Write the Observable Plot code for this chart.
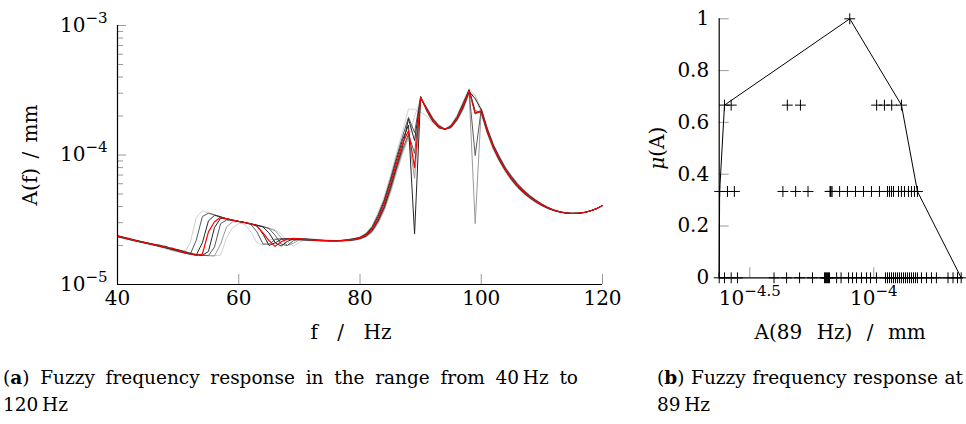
<!DOCTYPE html>
<html><head><meta charset="utf-8">
<script src="https://cdn.jsdelivr.net/npm/d3@7"></script>
<script src="https://cdn.jsdelivr.net/npm/@observablehq/plot@0.6"></script>
<style>
body{margin:0;background:#fff;}
#wrap{position:relative;width:966px;height:424px;overflow:hidden;background:#fff;font-family:"DejaVu Serif",serif;}
#left{position:absolute;left:0;top:0}
#right{position:absolute;left:630px;top:0}
#wrap svg text{font-family:"DejaVu Serif",serif;font-size:20px;fill:#000;}
.cap{position:absolute;font-size:18.5px;line-height:27px;color:#000;}
.just{text-align:justify;text-align-last:justify;}
</style>
</head><body>
<div id="wrap">
  <div id="left"></div>
  <div id="right"></div>
  <div class="cap" style="left:3px;top:364px;width:575px;">
    <div class="just">(<b>a</b>) Fuzzy frequency response in the range from 40&#8201;Hz to</div>
    <div>120&#8201;Hz</div>
  </div>
  <div class="cap" style="left:657px;top:364px;width:306px;">
    <div class="just">(<b>b</b>) Fuzzy frequency response at</div>
    <div>89&#8201;Hz</div>
  </div>
</div>
<script>
// ---------- data: left chart (amplitudes in units of 1e-5 mm) ----------
const UNIT = 1e-5;
const freq = [40,41,42,43,44,45,46,47,48,49,50,51,52,53,54,55,56,57,58,59,60,61,62,63,64,65,66,67,68,69,70,71,72,73,74,75,76,77,78,79,80,81,82,83,84,85,86,87,88,89,90,91,92,93,94,95,96,97,98,99,100,101,102,103,104,105,106,107,108,109,110,111,112,113,114,115,116,117,118,119,120];

const curveNominal = [2.36,2.30,2.24,2.18,2.13,2.08,2.03,1.98,1.93,1.91,1.84,1.77,1.72,
 1.68,1.72,2.55,3.05,3.30,3.22,3.14,3.07,3.01,2.94,2.82,2.50,2.18,1.97,2.14,2.24,2.27,2.25,2.23,2.21,2.19,2.18,2.17,2.17,2.18,2.20,2.23,
 2.29,2.42,2.68,3.25,4.2,5.9,8.6,12.2,15.4,8.0,27.9,22.5,18.6,16.5,15.8,16.6,19.2,24.0,31.4,20.8,22.0,15.4,11.6,9.3,7.7,6.6,
 5.8,5.2,4.75,4.4,4.12,3.9,3.74,3.63,3.56,3.54,3.55,3.6,3.7,3.85,4.07];
const curveA = [2.39,2.33,2.27,2.21,2.15,2.10,2.07,1.95,1.87,1.82,1.78,1.74,2.10,
 3.30,3.70,3.58,3.45,3.33,3.22,3.14,3.05,2.90,2.55,2.10,2.02,2.20,2.26,2.25,2.23,2.21,2.20,2.19,2.18,2.17,2.17,2.17,2.18,2.20,2.23,2.27,
 2.33,2.50,2.85,3.60,4.8,6.9,10.3,15.0,22.7,22.5,21.4,20.0,17.5,16.0,15.9,17.2,20.3,26.0,32.5,28.5,20.5,14.4,10.9,8.8,7.3,6.3,
 5.55,5.0,4.6,4.28,4.03,3.84,3.71,3.62,3.56,3.54,3.55,3.6,3.7,3.85,4.07];
const curveB = [2.38,2.32,2.26,2.20,2.14,2.09,2.04,2.02,1.92,1.85,1.80,1.75,1.71,
 2.20,3.35,3.55,3.45,3.33,3.22,3.14,3.07,3.01,2.90,2.55,2.05,2.05,2.22,2.26,2.25,2.23,2.21,2.20,2.19,2.18,2.17,2.17,2.18,2.19,2.22,2.26,
 2.32,2.47,2.80,3.48,4.55,6.5,9.6,13.8,19.5,14.9,28.3,21.8,18.0,16.2,15.8,16.9,19.8,25.2,32.0,22.0,21.2,14.8,11.2,9.0,7.5,6.4,
 5.62,5.06,4.65,4.32,4.06,3.86,3.72,3.62,3.56,3.54,3.55,3.6,3.7,3.85,4.07];
const curveC = [2.37,2.31,2.25,2.19,2.14,2.09,2.04,1.99,1.97,1.88,1.82,1.76,1.72,
 1.69,2.10,3.10,3.42,3.33,3.22,3.14,3.07,3.01,2.94,2.85,2.45,2.00,2.10,2.23,2.26,2.25,2.23,2.21,2.20,2.19,2.18,2.17,2.17,2.19,2.21,2.25,
 2.30,2.45,2.74,3.36,4.4,6.2,9.1,13.0,17.0,2.45,28.2,22.2,18.3,16.3,15.8,16.7,19.5,24.6,31.8,21.2,21.6,15.1,11.4,9.1,7.6,6.5,
 5.7,5.12,4.7,4.36,4.09,3.88,3.73,3.63,3.56,3.54,3.55,3.6,3.7,3.85,4.07];
const curveD = [2.35,2.29,2.23,2.17,2.12,2.07,2.02,1.97,1.92,1.88,1.86,1.79,1.73,
 1.69,1.68,1.80,2.75,3.25,3.20,3.14,3.07,3.01,2.94,2.87,2.78,2.50,2.10,1.98,2.15,2.25,2.26,2.24,2.22,2.20,2.19,2.18,2.17,2.18,2.19,2.22,
 2.27,2.38,2.62,3.15,4.0,5.6,8.1,11.5,19.0,12.9,27.6,22.8,18.9,16.7,15.8,16.4,18.9,23.4,31.0,27.2,22.4,15.7,11.8,9.5,7.8,6.7,
 5.88,5.27,4.8,4.44,4.15,3.92,3.75,3.64,3.56,3.54,3.55,3.6,3.7,3.85,4.07];
const curveE = [2.34,2.28,2.22,2.17,2.12,2.07,2.02,1.97,1.92,1.87,1.83,1.81,1.74,
 1.70,1.68,1.67,1.95,2.95,3.15,3.12,3.07,3.01,2.94,2.87,2.80,2.70,2.40,2.05,2.00,2.18,2.25,2.25,2.23,2.21,2.19,2.18,2.17,2.17,2.19,2.21,
 2.26,2.36,2.58,3.08,3.9,5.4,7.8,11.0,14.5,10.3,27.4,23.0,19.1,16.8,15.8,16.3,18.7,23.0,30.6,9.9,22.6,15.9,11.9,9.6,7.9,6.8,
 5.95,5.33,4.84,4.47,4.17,3.93,3.76,3.64,3.57,3.54,3.55,3.6,3.7,3.85,4.07];
const curveG = [2.34,2.28,2.22,2.16,2.11,2.06,2.01,1.96,1.91,1.87,1.82,1.77,1.76,
 1.71,1.69,1.67,1.66,2.05,2.80,3.05,3.05,3.00,2.94,2.87,2.80,2.72,2.60,2.30,2.00,2.08,2.22,2.25,2.24,2.22,2.20,2.19,2.18,2.17,2.18,2.20,
 2.25,2.34,2.55,3.00,3.8,5.2,7.5,10.5,14.0,6.6,27.2,23.2,19.3,17.0,15.9,16.2,18.5,22.6,30.2,2.95,22.8,16.1,12.0,9.7,8.0,6.9,
 6.02,5.38,4.88,4.5,4.19,3.95,3.77,3.65,3.57,3.54,3.55,3.6,3.7,3.85,4.07];
const curveH = [2.33,2.27,2.21,2.16,2.11,2.06,2.01,1.96,1.91,1.86,1.82,1.77,1.73,
 1.70,1.69,1.68,1.67,1.68,2.30,2.75,2.95,2.98,2.94,2.87,2.80,2.72,2.65,2.45,2.15,1.98,2.12,2.22,2.24,2.23,2.21,2.20,2.19,2.18,2.18,2.19,
 2.24,2.32,2.52,2.95,3.7,5.0,7.2,10.0,13.5,19.9,26.8,23.4,19.5,17.2,16.0,16.1,18.2,22.2,29.8,29.0,23.0,16.3,12.2,9.8,8.1,6.9,
 6.08,5.42,4.92,4.53,4.21,3.97,3.78,3.66,3.57,3.54,3.55,3.6,3.7,3.85,4.07];

const xTicksLeft = [40,60,80,100,120];
const yMajorLeft = [1e-5,1e-4,1e-3];
const yMajorLabels = ["10^\u22125","10^\u22124","10^\u22123"];
const yMinorLeft = [2e-5,3e-5,4e-5,5e-5,6e-5,7e-5,8e-5,9e-5,2e-4,3e-4,4e-4,5e-4,6e-4,7e-4,8e-4,9e-4];

// ---------- data: right chart (A(89 Hz) in units of 1e-5 mm per membership level) ----------
const muLevels = [0, 1/3, 2/3, 1];
const muZero = [2.38,2.50,2.66,2.82,3.96,4.45,5.02,5.66,6.33,6.39,6.45,6.51,6.57,6.63,7.08,7.38,7.91,8.21,8.52,8.92,9.35,9.70,10.25,11.15,11.36,11.57,11.79,12.01,12.23,12.46,12.69,12.93,13.18,13.42,13.67,13.93,14.19,14.46,14.73,15.00,15.57,16.31,17.09,17.89,19.92,20.87,21.76,22.52];
const muOneThird = [2.39,2.57,2.74,4.30,4.84,5.43,6.66,6.70,6.72,6.79,7.28,7.83,8.44,9.09,9.79,10.54,11.36,11.57,11.79,12.01,12.58,12.93,13.30,13.80,14.19,14.59,15.00];
const muTwoThirds = [2.50,2.66,4.48,5.06,10.27,11.04,11.81,12.93];
const muOne = [8.00];
const yTicksRight = [0,0.2,0.4,0.6,0.8,1];
const xTicksRight = [Math.pow(10,-4.5), 1e-4];
const xLabelsRight = ["10^\u22124.5","10^\u22124"];

// ---------- helpers ----------
const NS = "http://www.w3.org/2000/svg";
function supify(svg){
  svg.querySelectorAll("text").forEach(t=>{
    const s = t.textContent;
    const m = s.match(/^(.*)\^(.*)$/);
    if(!m) return;
    while(t.firstChild) t.removeChild(t.firstChild);
    t.appendChild(document.createTextNode(m[1]));
    const sp = document.createElementNS(NS,"tspan");
    sp.setAttribute("style","font-size:15px");
    sp.setAttribute("dy","-0.6em");
    sp.textContent = m[2];
    t.appendChild(sp);
  });
}
function spacing(svg, map){
  svg.querySelectorAll("text").forEach(t=>{ if(t.textContent in map) t.style.wordSpacing = map[t.textContent]; });
}
const STYLE = "background:transparent;overflow:visible;";

// ---------- left chart ----------
const curves = [
  {v:curveA, c:"#d2d2d2"}, {v:curveH, c:"#d2d2d2"},
  {v:curveG, c:"#9a9a9a"},
  {v:curveB, c:"#5a5a5a"}, {v:curveE, c:"#5a5a5a"},
  {v:curveC, c:"#262626"}, {v:curveD, c:"#262626"},
  {v:curveNominal, c:"#ff0000"}
];
const W1=630,H1=360,ml1=117,mr1=28,mt1=25,mb1=76;
const pw1=W1-ml1-mr1, ph1=H1-mt1-mb1;
const left = Plot.plot({
  width:W1,height:H1,marginLeft:ml1,marginRight:mr1,marginTop:mt1,marginBottom:mb1,
  style:STYLE,
  x:{domain:[40,120]},
  y:{type:"log",domain:[1e-5,1e-3]},
  marks:[
    Plot.ruleY(yMinorLeft,{stroke:"#9a9a9a",insetRight:pw1-6}),
    Plot.ruleY(yMajorLeft,{stroke:"#9a9a9a",insetRight:pw1-9}),
    Plot.ruleX(xTicksLeft.slice(1),{stroke:"#9a9a9a",insetTop:ph1-10}),
    ...curves.map(k=>Plot.line(freq.map((f,i)=>({f, A:k.v[i]*UNIT})),{x:"f",y:"A",stroke:k.c,strokeWidth:k.c==="#ff0000"?1.2:1})),
    Plot.ruleX([40],{stroke:"#000",strokeWidth:1.2}),
    Plot.ruleY([1e-5],{stroke:"#000",strokeWidth:1.2}),
    Plot.axisY({ticks:yMajorLeft,tickSize:0,tickPadding:10,label:null,
      tickFormat:d=>yMajorLabels[yMajorLeft.indexOf(d)]}),
    Plot.axisX({ticks:xTicksLeft,tickSize:0,tickPadding:6,label:null,tickFormat:d=>String(d)}),
    Plot.text(["f / Hz"],{text:d=>d,frameAnchor:"bottom",dy:54,dx:-9}),
    Plot.text(["A(f) / mm"],{text:d=>d,frameAnchor:"left",textAnchor:"middle",dx:-87,rotate:-90})
  ]
});
supify(left);
spacing(left, {"f / Hz":"13px","A(f) / mm":"3px"});
document.getElementById("left").appendChild(left);

// ---------- right chart ----------
const levelVals = [muZero, muOneThird, muTwoThirds, muOne];
const pts = levelVals.flatMap((vals,j)=>vals.map(v=>({A:v*UNIT, mu:muLevels[j]})));
const mins = levelVals.map((vals,j)=>({A:d3.min(vals)*UNIT, mu:muLevels[j]}));
const maxs = levelVals.map((vals,j)=>({A:d3.max(vals)*UNIT, mu:muLevels[j]})).reverse();
const poly = [...mins, ...maxs];
const W2=336,H2=360,ml2=88.7,mr2=5.3,mt2=18.3,mb2=82.7;
const pw2=W2-ml2-mr2, ph2=H2-mt2-mb2;
const xDom = [d3.min(muZero)*UNIT, d3.max(muZero)*UNIT];
const right = Plot.plot({
  width:W2,height:H2,marginLeft:ml2,marginRight:mr2,marginTop:mt2,marginBottom:mb2,
  style:STYLE,
  x:{type:"log",domain:xDom},
  y:{domain:[0,1]},
  marks:[
    Plot.ruleY(yTicksRight,{stroke:"#9a9a9a",insetRight:pw2-10}),
    Plot.ruleX(xTicksRight,{stroke:"#9a9a9a",insetTop:ph2-10}),
    Plot.ruleX([xDom[0]],{stroke:"#000",strokeWidth:1.2}),
    Plot.ruleY([0],{stroke:"#000",strokeWidth:1.2,insetRight:-2}),
    Plot.line(poly,{x:"A",y:"mu",stroke:"#000",strokeWidth:1}),
    Plot.dot(pts,{x:"A",y:"mu",symbol:"plus",r:3.6,stroke:"#000",strokeWidth:1}),
    Plot.axisY({ticks:yTicksRight,tickSize:0,tickPadding:10,label:null,tickFormat:d=>String(d)}),
    Plot.axisX({ticks:xTicksRight,tickSize:0,tickPadding:13,label:null,
      tickFormat:d=>xLabelsRight[xTicksRight.indexOf(d)]}),
    Plot.text(["A(89 Hz) / mm"],{text:d=>d,frameAnchor:"bottom",dy:61}),
    Plot.text(["\u03bc(A)"],{text:d=>d,frameAnchor:"left",textAnchor:"middle",dx:-62,rotate:-90})
  ]
});
supify(right);
spacing(right, {"A(89 Hz) / mm":"8px"});
right.querySelectorAll("text").forEach(t=>{
  if(t.textContent==="\u03bc(A)"){
    while(t.firstChild) t.removeChild(t.firstChild);
    const it=document.createElementNS(NS,"tspan"); it.setAttribute("font-style","italic"); it.textContent="\u03bc";
    t.appendChild(it); t.appendChild(document.createTextNode("(A)"));
  }
});
document.getElementById("right").appendChild(right);
</script>
</body></html>
